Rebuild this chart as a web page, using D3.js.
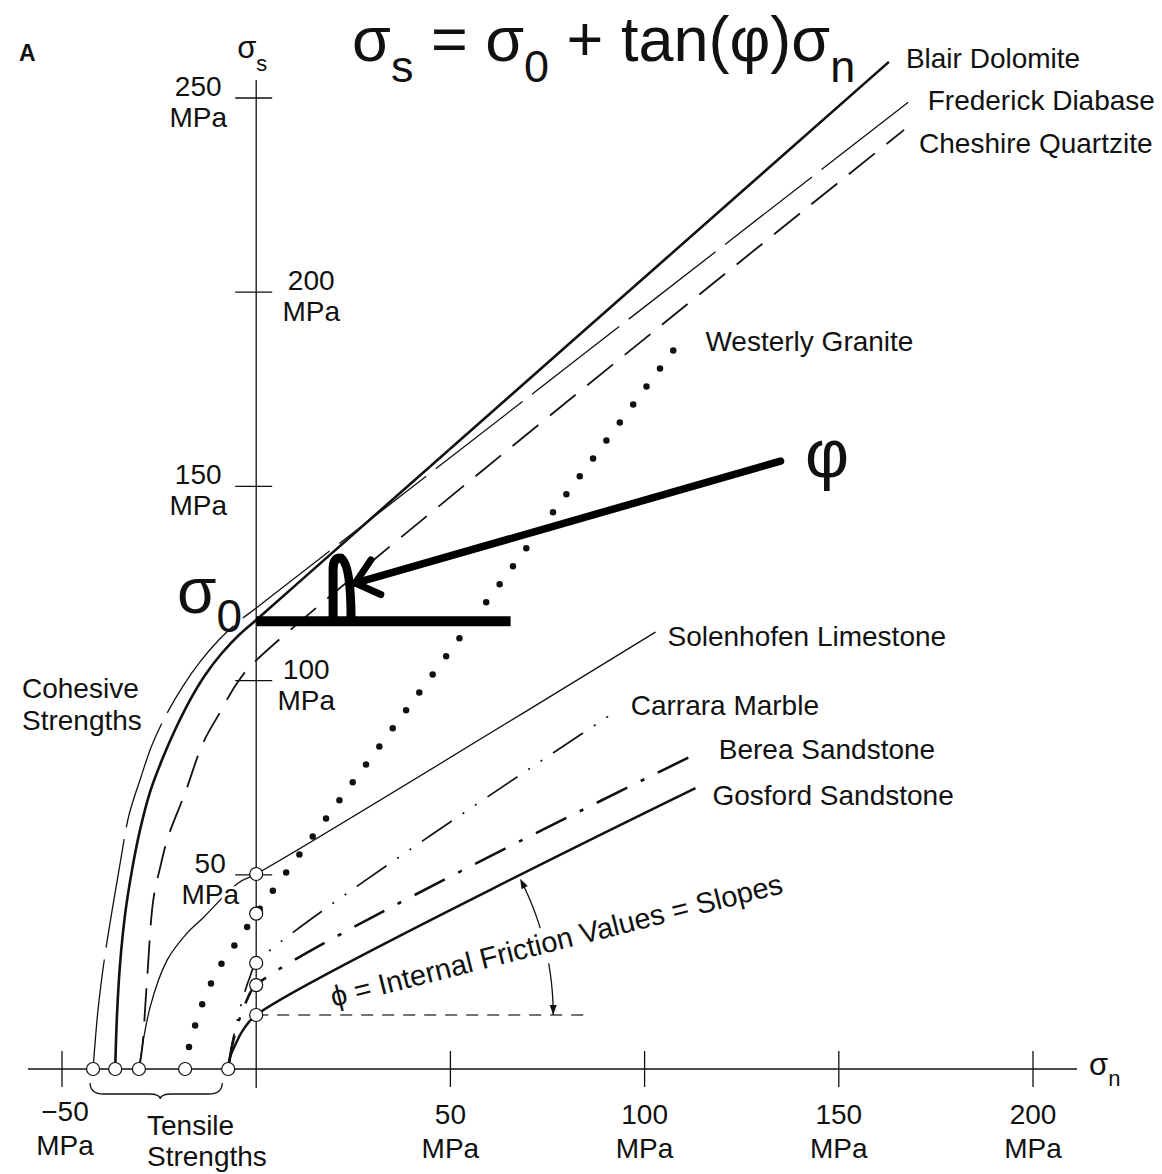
<!DOCTYPE html>
<html><head><meta charset="utf-8">
<script src="https://cdn.jsdelivr.net/npm/d3@7"></script>
<style>
html,body{margin:0;padding:0;background:#fff;}
svg{display:block;}
text{font-family:"Liberation Sans",Arial,Helvetica,sans-serif;fill:#111;}
</style></head><body>
<svg id="chart" width="1162" height="1174"></svg>
<script>
// ---------- data (MPa) ----------
const xTicks = [-50, 50, 100, 150, 200];
const yTicks = [50, 100, 150, 200, 250];
const tickUnit = "MPa";
const rocks = ["Blair Dolomite","Frederick Diabase","Cheshire Quartzite","Westerly Granite",
               "Solenhofen Limestone","Carrara Marble","Berea Sandstone","Gosford Sandstone"];
// tensile strength (sigma_n where sigma_s = 0)
const tensile  = [-36.3, -42.0, -30.2, -18.3, -30.2, -7.2, -7.2, -7.2];
// cohesive strength (sigma_s at sigma_n = 0)
const cohesion = [115.6, 118.7, 105.2, 40.0, 50.2, 27.3, 21.6, 13.9];
// points read along each envelope between tensile and cohesion
const blairPts      = [[-35.84,13.9],[-35.07,26.8],[-33.78,39.6],[-31.98,51.2],[-29.92,61.5],[-27.34,71.3],[-24.25,79.6],[-20.91,87.3],[-17.04,95.0],[-13.18,101.4],[-8.81,107.1],[-4.17,112.0]];
const frederickPts  = [[-40.73,15.2],[-38.93,29.4],[-36.87,42.2],[-34.81,54.3],[-32.75,65.4],[-29.66,75.2],[-26.83,83.4],[-23.22,91.1],[-18.85,98.6],[-14.47,104.8],[-9.58,110.5],[-4.69,115.1]];
const cheshirePts   = [[-29.4,5],[-28.1,23],[-26.5,43.5],[-24.7,52],[-22.7,59.7],[-18.3,71.1],[-13.7,83.9],[-9.5,91.5],[-4.9,99.4]];
const westerlyPts   = [[-17.3,5.7],[-15.7,11.3],[-13.9,16.7],[-11.6,22.1],[-9.0,27.0],[-5.7,31.7],[-2.3,36.6]];
const solenhofenPts = [[-27.3,16],[-22.9,28.1],[-17.8,35],[-13.7,38.9],[-4.6,47.9]];
const carraraPts    = [[-6.3,6],[-5.0,12],[-3.2,19],[-1.5,24]];
const bereaPts      = [[-6.2,6],[-4.6,12],[-2.5,17.5]];
const gosfordPts    = [[-6.7,3.1],[-5.4,6.2],[-3.4,10]];
const midPts = [blairPts, frederickPts, cheshirePts, westerlyPts, solenhofenPts, carraraPts, bereaPts, gosfordPts];
// points read just past the cohesion point (where the straight part begins)
const nearPts = [[[8.7,123.3]], [], [], [], [], [], [], []];
// last point of each envelope (upper right end)
const endPts = [[162.9,259.3],[168.0,249.0],[166.8,241.8],[110.0,188.5],[102.8,112.5],[92.3,91.9],[114.2,81.6],[113.1,72.3]];

// annotation values (MPa)
const sigma0Level = 115.3;
const sigma0BarEnd = 65.5;
const phiArrowFrom = [135, 156.5];
const phiArrowTo = [25.5, 125.1];
const frictionRefEnd = 86;       // dashed horizontal from Gosford cohesion

// ---------- styles ----------
const styles = [
  {w:2.6, dash:null},                    // Blair
  {w:1.3, dash:"110,12"},                // Frederick
  {w:1.8, dash:"33,15"},                 // Cheshire
  {w:6.5, dash:"0,22.4", cap:"round"},   // Westerly (dots)
  {w:1.3, dash:null},                    // Solenhofen
  {w:1.7, dash:"36,13,2,13,2,13"},       // Carrara
  {w:2.6, dash:"34,15,4,15"},            // Berea
  {w:2.5, dash:null}                     // Gosford
];
const labelOffsets = [[17,-4],[19,-2],[15,13],[22,4],[12,4],[16,-7],[19,-3],[17,7]];

const svg = d3.select("#chart");
const x = d3.scaleLinear().domain([-50, 200]).range([62, 1033]);
const y = d3.scaleLinear().domain([0, 250]).range([1069, 98]);
const FS = 28;

// ---------- axes ----------
const axes = svg.append("g").attr("stroke", "#111").attr("stroke-width", 1.3);
axes.append("line").attr("x1", 28).attr("x2", 1077).attr("y1", y(0)).attr("y2", y(0));
axes.append("line").attr("x1", x(0)).attr("x2", x(0)).attr("y1", 80).attr("y2", 1088);
axes.selectAll(".xt").data(xTicks).join("line")
  .attr("x1", d => x(d)).attr("x2", d => x(d)).attr("y1", y(0) - 18).attr("y2", y(0) + 18);
axes.selectAll(".yt").data(yTicks).join("line")
  .attr("x1", x(0) - 21).attr("x2", x(0) + 16).attr("y1", d => y(d)).attr("y2", d => y(d));

// ---------- envelopes ----------
const lineGen = d3.line().x(d => x(d[0])).y(d => y(d[1])).curve(d3.curveCatmullRom.alpha(0.5));
const env = rocks.map((r, i) => ({
  name: r, i,
  pts: [[tensile[i], 0], ...midPts[i], [0, cohesion[i]], ...nearPts[i], endPts[i]]
}));
svg.append("g").selectAll("path").data(env).join("path")
  .attr("d", d => lineGen(d.pts))
  .attr("fill", "none").attr("stroke", "#111")
  .attr("stroke-width", d => styles[d.i].w)
  .attr("stroke-dasharray", d => styles[d.i].dash)
  .attr("stroke-linecap", d => styles[d.i].cap || "butt")
  .attr("stroke-linejoin", "round");

// rock labels
svg.append("g").selectAll("text").data(env).join("text")
  .attr("x", d => x(endPts[d.i][0]) + labelOffsets[d.i][0])
  .attr("y", d => y(endPts[d.i][1]) + labelOffsets[d.i][1] + 10)
  .attr("font-size", FS).text(d => d.name);

// ---------- friction angle helper (dashed ref + curved arrow) ----------
const gosI = 7;
const cx0 = x(0), cy0 = y(cohesion[gosI]);
svg.append("line").attr("x1", cx0).attr("x2", x(frictionRefEnd)).attr("y1", cy0).attr("y2", cy0)
  .attr("stroke", "#444").attr("stroke-width", 1.4).attr("stroke-dasharray", "12,9");
const slopePx = (y(cohesion[gosI]) - y(endPts[gosI][1])) / (x(endPts[gosI][0]) - x(0));
const topAng = Math.atan(slopePx);
const R = 297;
const arcPt = a => [cx0 + R * Math.cos(a), cy0 - R * Math.sin(a)];
function arcPath(a0, a1) {
  const n = 20, p = d3.range(n + 1).map(k => arcPt(a0 + (a1 - a0) * k / n));
  return d3.line()(p);
}
const deg = Math.PI / 180;
svg.append("path").attr("d", arcPath(0, 10 * deg)).attr("fill", "none").attr("stroke", "#111").attr("stroke-width", 1.3);
svg.append("path").attr("d", arcPath(17 * deg, topAng - 0.02)).attr("fill", "none").attr("stroke", "#111").attr("stroke-width", 1.3);
function headAt(a, dirSign) {
  const [px, py] = arcPt(a);
  const tx = -Math.sin(a) * dirSign, ty = -Math.cos(a) * dirSign;
  const nx = -ty, ny = tx, L = 10, W = 3.5;
  const bx = px - tx * L, by = py - ty * L;
  return `M${px},${py}L${bx + nx * W},${by + ny * W}L${bx - nx * W},${by - ny * W}Z`;
}
svg.append("path").attr("d", headAt(topAng, 1)).attr("fill", "#111");
svg.append("path").attr("d", headAt(0, -1)).attr("fill", "#111");
svg.append("text").attr("font-size", 29)
  .attr("transform", `translate(${x(0) + 77},${y(cohesion[gosI]) - 8}) rotate(-14.2)`)
  .text("ϕ = Internal Friction Values = Slopes");

// ---------- circles ----------
const circ = svg.append("g").attr("fill", "#fff").attr("stroke", "#111").attr("stroke-width", 1.2);
circ.selectAll(".tc").data(Array.from(new Set(tensile))).join("circle")
  .attr("cx", d => x(d)).attr("cy", y(0)).attr("r", 6.5);
circ.selectAll(".cc").data(cohesion.slice(3)).join("circle")
  .attr("cx", x(0)).attr("cy", d => y(d)).attr("r", 6.5);

// tensile brace
const bl = x(d3.min(tensile)) - 3, br = x(d3.max(tensile)) - 6, bm = x(-24.7), by0 = y(0) + 14, by1 = y(0) + 25;
svg.append("path").attr("fill", "none").attr("stroke", "#111").attr("stroke-width", 1.3)
  .attr("d", `M${bl},${by0}Q${bl},${by1} ${bl + 14},${by1}L${bm - 12},${by1}Q${bm},${by1} ${bm},${by1 + 5}Q${bm},${by1} ${bm + 12},${by1}L${br - 14},${by1}Q${br},${by1} ${br},${by0}`);

// ---------- tick labels ----------
const yLabelDx = {250: -58, 200: 55, 150: -58, 100: 50, 50: -46};
const yl = svg.append("g").attr("font-size", FS).attr("text-anchor", "middle")
  .attr("stroke", "#fff").attr("stroke-width", 6).attr("paint-order", "stroke").attr("stroke-linejoin", "round");
yTicks.forEach(t => {
  const g = yl.append("text").attr("x", x(0) + yLabelDx[t]).attr("y", y(t) - 2);
  g.append("tspan").attr("x", x(0) + yLabelDx[t]).attr("dy", 0).text(t);
  g.append("tspan").attr("x", x(0) + yLabelDx[t]).attr("dy", 31).text(tickUnit);
});
const xl = svg.append("g").attr("font-size", FS).attr("text-anchor", "middle");
xTicks.forEach(t => {
  const g = xl.append("text").attr("x", x(t) + (t < 0 ? 3 : 0)).attr("y", y(0) + (t < 0 ? 52 : 55));
  g.append("tspan").attr("x", x(t) + (t < 0 ? 3 : 0)).attr("dy", 0).text(t < 0 ? "\u2212" + Math.abs(t) : t);
  g.append("tspan").attr("x", x(t) + (t < 0 ? 3 : 0)).attr("dy", 34).text(tickUnit);
});

// axis titles
const st = svg.append("text").attr("x", x(0) - 19).attr("y", 58).attr("font-size", 31);
st.append("tspan").text("σ");
st.append("tspan").attr("font-size", 22).attr("dy", 13).text("s");
const nt = svg.append("text").attr("x", 1089).attr("y", y(0) + 6).attr("font-size", 31);
nt.append("tspan").text("σ");
nt.append("tspan").attr("font-size", 22).attr("dy", 11).text("n");

svg.append("text").attr("x", 19).attr("y", 61).attr("font-size", 23).attr("font-weight", "bold").text("A");

// group labels
const coh = svg.append("text").attr("x", 22).attr("y", 698).attr("font-size", FS);
coh.append("tspan").attr("x", 22).text("Cohesive");
coh.append("tspan").attr("x", 22).attr("dy", 32).text("Strengths");
const ten = svg.append("text").attr("x", 147).attr("y", 1135).attr("font-size", FS);
ten.append("tspan").attr("x", 147).text("Tensile");
ten.append("tspan").attr("x", 147).attr("dy", 31).text("Strengths");

// ---------- overlay annotations ----------
const ann = svg.append("g").attr("stroke", "#000").attr("fill", "none").attr("stroke-linecap", "round");
ann.append("line").attr("x1", x(0)).attr("x2", x(sigma0BarEnd)).attr("y1", y(sigma0Level)).attr("y2", y(sigma0Level))
  .attr("stroke-width", 10).attr("stroke-linecap", "butt");
const ax0 = x(19.8), ay0 = y(sigma0Level);
ann.append("path").attr("stroke-width", 9).attr("stroke-linecap", "butt")
  .attr("d", `M${ax0},${ay0}L${ax0},${ay0 - 52}Q${ax0},${ay0 - 64} ${ax0 + 8},${ay0 - 63}Q${ax0 + 18},${ay0 - 56} ${ax0 + 18},${ay0}`);
const tipX = x(phiArrowTo[0]), tipY = y(phiArrowTo[1]);
const tailX = x(phiArrowFrom[0]), tailY = y(phiArrowFrom[1]);
ann.append("line").attr("x1", tailX).attr("y1", tailY).attr("x2", tipX).attr("y2", tipY).attr("stroke-width", 7.5);
{
  const L = Math.hypot(tailX - tipX, tailY - tipY), dx = (tailX - tipX) / L, dy = (tailY - tipY) / L;
  const rot = a => [dx * Math.cos(a) - dy * Math.sin(a), dx * Math.sin(a) + dy * Math.cos(a)];
  const r1 = rot(40 * deg), r2 = rot(-40 * deg), AL = 28;
  ann.append("path").attr("stroke-width", 7).attr("stroke-linejoin", "round")
    .attr("d", `M${tipX + r1[0] * AL},${tipY + r1[1] * AL}L${tipX},${tipY}L${tipX + r2[0] * AL},${tipY + r2[1] * AL}`);
}
const s0 = svg.append("text").attr("x", 177).attr("y", 613).attr("font-size", 64).attr("fill", "#000");
s0.append("tspan").text("σ");
s0.append("tspan").attr("font-size", 46).attr("dy", 19).text("0");
svg.append("text").attr("x", 827).attr("y", 477).attr("font-size", 68).attr("text-anchor", "middle").attr("fill", "#000").text("φ");
const f = svg.append("text").attr("x", 352).attr("y", 61).attr("font-size", 63).attr("fill", "#000");
f.append("tspan").text("σ");
f.append("tspan").attr("font-size", 45).attr("dy", 21).text("s");
f.append("tspan").attr("dy", -21).text(" = σ");
f.append("tspan").attr("font-size", 45).attr("dy", 21).text("0");
f.append("tspan").attr("dy", -21).text(" + tan(φ)σ");
f.append("tspan").attr("font-size", 45).attr("dy", 21).text("n");
</script>
</body></html>
